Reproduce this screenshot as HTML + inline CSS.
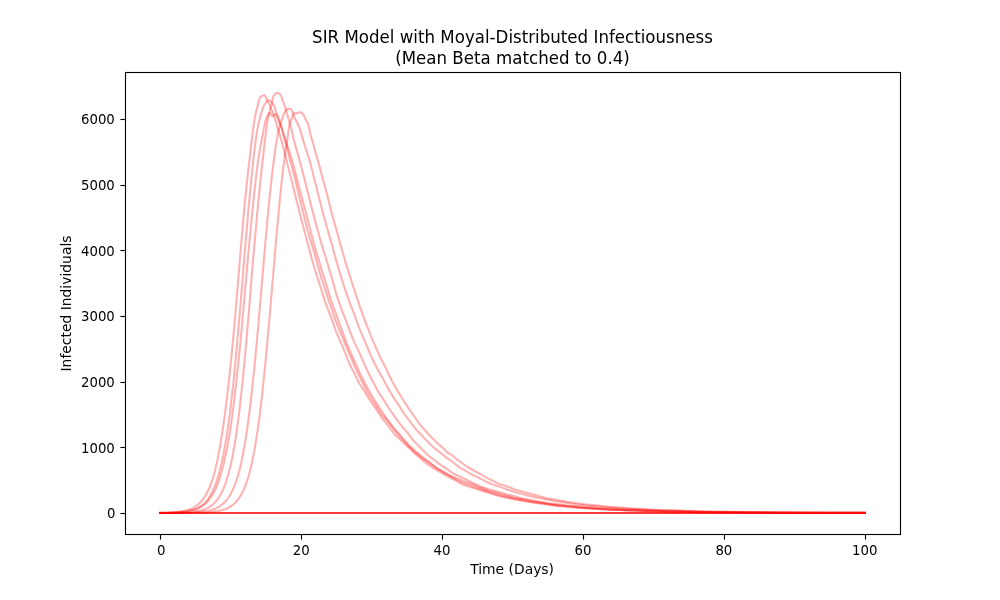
<!DOCTYPE html>
<html><head><meta charset="utf-8"><title>SIR Model with Moyal-Distributed Infectiousness</title>
<style>html,body{margin:0;padding:0;background:#fff;}body{width:1000px;height:600px;overflow:hidden;}svg{display:block;}text{font-family:"DejaVu Sans","Liberation Sans",sans-serif;fill:#000;}</style></head><body>
<svg width="1000" height="600" viewBox="0 0 1000 600">
<rect x="0" y="0" width="1000" height="600" fill="#ffffff"/>
<defs><clipPath id="ax"><rect x="125" y="72" width="775" height="462"/></clipPath></defs>
<g clip-path="url(#ax)" fill="none" stroke="#ff0000" stroke-opacity="0.3" stroke-width="2.083" stroke-linejoin="round" stroke-linecap="square">
<polyline points="160.23,512.80 168.23,512.55 174.48,512.13 176.73,511.91 181.48,511.30 185.23,510.64 186.98,510.22 188.73,509.69 190.48,509.07 191.98,508.43 192.98,507.92 194.23,507.17 195.98,506.00 197.48,504.90 198.73,503.85 200.23,502.39 201.73,500.71 202.98,499.16 204.23,497.45 205.23,495.91 206.23,494.20 207.48,491.83 208.73,489.24 209.73,486.98 211.48,482.49 213.23,477.07 214.23,473.56 215.23,469.74 216.98,462.19 218.48,454.75 220.48,443.73 222.23,433.07 223.73,422.97 225.23,411.90 226.73,399.82 228.48,384.58 229.98,370.71 231.48,356.03 234.73,321.60 240.73,249.32 244.98,200.65 247.48,177.08 249.73,158.14 251.48,142.47 253.23,128.24 254.48,120.03 255.73,113.26 256.48,110.04 257.73,105.52 258.73,101.56 259.23,99.92 259.98,97.89 260.48,96.94 260.73,96.68 261.23,96.29 261.98,95.91 263.23,95.48 264.23,95.30 264.48,95.31 264.73,95.47 264.98,95.78 265.73,97.02 267.23,100.45 269.73,104.93 269.98,105.54 270.73,108.58 270.98,109.23 271.48,110.20 272.73,112.02 273.23,113.01 278.73,131.39 282.48,144.36 283.98,149.84 285.23,154.85 287.73,165.38 291.73,180.78 299.98,214.24 305.73,236.04 309.23,248.89 312.23,260.39 313.98,266.49 321.98,291.92 323.98,298.12 325.23,301.78 331.98,320.11 335.73,330.55 337.48,334.90 343.73,349.46 347.98,360.14 349.23,363.06 350.98,366.73 354.48,373.48 357.48,379.93 358.48,381.89 359.73,384.02 362.98,388.86 366.98,395.60 372.48,403.98 376.73,410.14 381.23,416.84 383.98,420.59 386.73,423.89 388.48,426.12 393.23,432.71 394.48,434.19 395.73,435.46 400.73,440.03 405.48,444.66 409.23,447.84 412.73,451.43 416.73,455.22 420.48,458.47 422.48,460.12 427.48,464.06 431.23,466.72 433.23,468.03 439.73,471.94 445.23,475.07 451.73,478.46 454.48,479.80 458.98,482.46 460.98,483.50 462.48,484.20 465.23,485.32 470.23,487.11 473.48,488.02 478.98,489.68 486.73,492.35 493.23,494.31 496.73,495.55 504.23,497.36 507.98,498.03 514.48,499.46 522.73,500.65 529.23,502.05 531.98,502.42 535.48,503.03 543.48,503.94 556.23,505.87 562.73,506.41 567.73,506.95 576.48,507.46 585.73,508.18 589.73,508.35 596.98,509.01 602.48,509.17 607.23,509.44 611.98,509.62 615.98,509.87 619.98,509.99 626.73,510.43 630.48,510.45 634.98,510.55 641.23,510.79 644.98,510.85 651.23,511.09 658.23,511.24 670.23,511.62 681.48,511.77 697.23,512.09 703.48,512.13 713.98,512.34 724.98,512.35 734.48,512.52 750.73,512.57 756.98,512.67 760.98,512.63 785.98,512.70 796.73,512.82 817.48,512.79 824.98,512.86 864.77,512.91"/>
<polyline points="160.23,512.87 165.98,512.76 176.73,512.30 182.23,511.90 187.23,511.24 189.23,510.86 191.98,510.21 193.73,509.72 195.23,509.20 196.73,508.58 198.23,507.83 199.73,506.96 200.98,506.11 202.73,504.78 204.23,503.50 205.48,502.29 206.48,501.18 207.48,499.90 208.73,498.07 209.98,496.04 211.23,493.80 212.48,491.33 213.73,488.63 214.73,486.27 215.73,483.69 216.73,480.84 217.73,477.72 219.73,470.68 221.48,463.55 223.23,455.45 224.73,447.51 226.48,437.08 227.98,427.11 229.48,416.02 231.23,401.75 232.73,388.49 233.98,376.61 235.23,363.92 237.98,333.80 240.48,304.57 245.48,243.70 248.98,203.78 250.73,185.32 252.48,168.00 253.98,154.33 255.48,142.19 256.98,131.93 257.73,127.59 258.73,122.57 260.23,116.67 262.48,109.16 263.23,107.14 263.98,105.60 264.73,104.32 266.23,102.08 266.73,101.48 267.23,101.09 268.48,100.52 269.23,100.40 269.98,100.60 270.98,101.26 272.23,103.24 273.48,104.77 273.98,105.56 274.23,106.08 274.73,107.44 276.23,112.68 276.73,113.95 278.23,117.13 278.73,118.45 279.23,120.03 280.98,125.98 282.98,133.21 287.23,149.09 290.48,161.66 294.48,176.60 296.23,183.64 301.48,205.71 305.98,224.06 307.23,228.93 308.73,234.20 313.73,250.64 318.23,267.18 320.73,275.92 321.98,279.94 325.23,289.64 328.98,301.29 333.73,315.32 338.73,328.68 343.23,339.15 347.98,350.91 351.23,358.01 354.73,366.35 356.73,370.82 359.73,377.02 362.73,382.79 365.98,389.32 367.98,392.95 371.98,399.73 373.73,402.45 376.73,406.88 378.98,410.51 380.23,412.39 383.23,416.28 386.73,420.27 388.23,422.07 392.48,427.75 396.98,433.39 399.48,436.22 402.98,439.81 407.23,444.71 413.23,450.74 414.73,452.13 417.73,454.40 421.23,457.44 423.98,459.32 426.48,461.13 429.48,463.05 432.48,465.22 438.98,469.71 441.98,471.53 445.98,473.63 450.48,476.45 453.23,477.81 456.48,479.61 459.98,481.34 465.98,483.84 470.23,485.31 473.48,486.76 474.73,487.24 477.98,488.25 480.98,489.33 485.48,490.85 492.73,493.04 497.73,494.82 501.98,495.91 506.48,496.72 513.48,498.43 523.23,500.55 525.73,500.95 528.98,501.35 532.98,502.07 537.73,502.59 547.23,504.09 554.73,505.03 562.48,505.79 568.73,506.30 576.23,507.17 582.48,507.75 589.73,508.18 593.48,508.48 599.23,508.77 607.48,509.55 614.73,509.86 618.98,509.91 625.23,510.09 635.73,510.56 649.73,510.96 653.98,511.15 657.73,511.16 663.73,511.30 675.98,511.73 685.48,511.79 699.48,512.11 706.23,512.13 725.73,512.37 735.73,512.34 764.73,512.69 780.48,512.76 803.23,512.73 823.98,512.86 864.77,512.91"/>
<polyline points="160.23,512.86 168.98,512.69 177.98,512.32 183.48,511.82 186.48,511.44 188.48,511.07 191.73,510.35 195.48,509.25 197.48,508.50 199.48,507.63 200.98,506.86 202.48,505.93 203.98,504.85 205.48,503.60 206.98,502.17 208.23,500.80 209.48,499.22 210.73,497.45 212.23,495.15 213.48,493.06 214.48,491.19 215.48,489.11 216.73,486.22 217.98,483.09 218.98,480.38 219.98,477.43 221.73,471.54 223.48,464.67 225.48,455.79 227.23,447.18 228.98,437.56 230.48,428.26 231.73,419.60 233.23,408.16 234.73,395.79 237.73,368.89 240.48,341.65 242.48,319.82 248.23,254.75 251.98,215.18 253.48,200.36 254.98,186.35 256.48,173.36 257.73,163.55 258.73,156.59 259.98,149.04 260.98,143.69 262.73,134.92 264.23,126.42 264.98,122.84 265.48,121.05 266.23,118.75 267.23,116.30 268.73,113.68 269.23,113.14 269.48,113.02 269.73,113.01 269.98,113.12 270.48,113.54 271.48,114.68 272.23,115.81 272.73,116.35 272.98,116.39 273.23,116.21 274.23,114.65 274.48,114.43 276.23,114.40 276.48,114.61 276.73,115.12 276.98,115.84 277.73,118.55 278.23,120.06 279.48,122.77 281.23,126.12 281.73,127.34 282.48,129.71 284.23,135.86 290.73,156.06 292.98,163.79 295.48,173.11 299.48,188.86 306.98,216.85 310.98,232.87 316.73,253.52 321.73,270.12 326.23,284.42 331.23,300.74 332.98,305.94 335.98,313.97 341.23,328.56 346.98,343.86 349.98,351.13 359.98,373.42 362.23,378.00 366.98,387.13 370.23,392.92 372.98,397.58 378.98,407.13 381.73,411.21 387.48,419.48 391.73,425.26 393.23,427.19 395.73,430.17 399.23,433.91 403.23,438.83 405.48,441.39 411.98,447.94 415.98,451.82 417.48,453.14 423.73,458.13 429.48,462.27 431.23,463.67 434.23,466.25 435.48,467.20 436.48,467.83 441.73,470.82 445.48,473.21 452.98,476.82 457.48,478.51 463.48,481.02 471.23,483.77 473.23,484.61 476.73,486.26 482.23,488.17 486.48,489.98 490.48,491.39 491.98,491.80 495.98,492.70 498.48,493.41 502.23,494.60 505.73,495.40 509.98,496.73 513.73,497.67 518.48,498.45 521.73,499.13 524.23,499.55 527.98,500.44 534.98,501.78 538.48,502.23 541.48,502.78 546.73,503.58 553.73,504.45 558.48,505.27 560.48,505.56 570.48,506.49 580.48,507.61 585.73,507.84 597.48,508.76 602.23,508.98 612.48,509.60 617.48,509.70 625.73,510.21 642.48,510.69 651.73,511.12 657.98,511.24 665.48,511.52 677.48,511.75 680.98,511.74 685.23,511.90 693.48,512.05 701.23,512.11 713.48,512.33 736.23,512.41 750.48,512.63 761.23,512.61 799.23,512.83 864.77,512.91"/>
<polyline points="160.23,513.00 164.48,513.00 164.98,512.94 174.98,512.85 181.23,512.69 185.98,512.46 192.48,511.94 197.98,511.10 199.48,510.79 201.23,510.33 203.48,509.65 205.23,509.03 207.23,508.16 208.98,507.27 210.23,506.49 211.73,505.34 213.48,503.79 214.98,502.28 216.48,500.59 217.73,498.99 218.98,497.18 219.98,495.57 221.23,493.33 222.48,490.84 223.48,488.67 224.48,486.27 226.23,481.36 228.23,474.64 229.98,467.95 231.48,461.46 232.98,453.99 234.48,445.45 236.23,434.33 237.73,423.83 238.98,414.12 240.48,401.22 243.23,374.75 245.73,348.14 248.73,313.17 252.98,260.61 258.23,202.73 259.98,185.11 261.48,170.96 263.98,148.69 266.73,125.32 267.23,122.09 267.98,118.47 270.73,107.47 271.73,104.30 271.98,103.30 272.48,99.90 272.73,98.64 273.23,96.80 273.73,95.68 274.23,94.95 274.73,94.40 276.23,93.24 276.73,92.99 277.23,92.90 277.73,92.97 278.23,93.16 279.48,93.91 280.23,94.54 280.98,95.52 281.48,96.44 281.73,97.07 282.23,99.35 282.48,100.22 282.98,101.40 283.73,102.91 284.23,104.32 285.23,108.09 285.98,110.33 287.73,116.42 289.48,121.83 290.23,124.43 291.73,130.54 293.98,140.65 298.48,156.38 300.73,164.65 304.48,178.95 311.98,209.04 317.23,228.73 321.73,244.66 326.48,259.98 331.73,277.64 335.98,292.74 337.23,296.86 338.48,300.71 340.23,305.78 341.73,309.90 344.98,318.20 349.98,331.38 353.23,339.60 354.48,342.57 356.23,346.42 359.98,354.15 365.23,366.11 367.73,371.56 369.48,375.05 375.48,386.58 377.73,390.74 379.48,393.68 380.73,395.59 383.98,400.28 387.73,406.49 390.98,411.34 398.23,421.56 399.73,423.56 402.48,426.95 405.98,430.94 409.73,435.60 412.48,439.30 414.48,441.62 416.48,443.75 419.48,446.66 422.48,449.87 426.48,453.74 430.98,457.65 434.23,460.02 438.23,463.20 442.23,465.99 445.98,468.26 451.48,472.35 453.23,473.45 455.98,474.77 459.23,476.12 462.48,477.85 466.48,479.64 470.73,481.93 473.98,483.56 479.98,486.30 481.48,486.90 484.98,488.02 488.48,489.34 489.48,489.58 491.98,489.97 492.98,490.20 496.98,491.59 500.48,492.56 505.73,494.22 508.23,494.86 513.98,496.14 520.98,498.08 522.73,498.46 526.48,499.09 533.48,500.49 537.98,501.19 547.73,503.16 549.48,503.45 553.98,503.72 566.73,505.30 571.98,505.69 582.48,506.86 589.73,507.51 594.98,507.90 598.73,508.10 606.48,508.73 611.23,508.89 627.98,509.96 634.73,510.14 642.73,510.62 660.98,510.97 671.48,511.39 676.48,511.42 686.48,511.68 698.48,511.88 705.73,512.07 730.23,512.42 780.23,512.67 785.98,512.65 797.98,512.80 864.77,512.91"/>
<polyline points="160.23,513.00 172.23,513.00 172.73,512.93 183.23,512.81 192.23,512.58 195.73,512.37 203.23,511.61 207.73,510.94 209.73,510.48 212.48,509.69 214.23,509.11 215.73,508.49 217.23,507.76 218.73,506.86 220.98,505.26 222.73,503.89 224.23,502.55 225.73,501.02 226.98,499.59 228.23,497.95 229.48,496.07 230.48,494.35 231.73,491.96 232.98,489.32 234.23,486.42 235.23,483.87 236.23,481.09 237.23,478.05 238.23,474.74 239.23,471.08 240.98,463.79 242.73,455.35 244.48,445.79 246.23,435.07 247.73,424.79 249.23,413.47 250.98,399.00 252.48,385.54 253.98,371.26 256.73,343.02 258.48,323.22 265.73,238.28 268.23,210.72 269.73,195.93 271.73,177.61 273.23,164.93 274.73,153.40 276.23,143.05 277.73,134.16 278.48,130.81 279.48,127.10 281.73,119.83 283.48,114.97 284.23,113.14 284.73,112.18 285.73,110.79 287.48,108.76 287.73,108.70 289.23,108.75 290.73,108.89 290.98,109.00 291.23,109.36 292.48,112.16 295.23,118.86 298.48,125.46 299.73,128.46 300.98,132.58 304.23,143.89 308.23,156.05 310.23,162.72 311.48,167.50 313.73,176.78 316.48,187.20 319.98,201.38 323.23,213.91 328.48,232.70 331.73,244.02 335.73,258.78 339.48,271.69 342.48,281.48 344.73,288.39 347.48,296.33 349.48,301.79 353.98,313.64 358.48,326.29 359.73,329.37 364.73,340.86 369.48,352.51 371.98,358.11 374.73,363.67 378.98,371.70 382.98,378.83 388.23,388.62 392.98,396.65 394.48,399.01 399.48,406.38 402.23,410.83 404.23,413.86 405.73,415.96 411.98,424.22 416.73,430.09 417.98,431.44 420.73,434.19 424.48,438.55 426.23,440.31 433.98,447.69 435.73,449.15 439.48,451.98 443.98,455.62 446.73,457.93 447.73,458.63 449.73,459.81 450.73,460.48 454.98,464.04 458.73,466.86 461.48,468.62 466.23,471.20 469.98,473.55 471.73,474.55 473.23,475.28 480.73,478.69 485.23,481.19 490.73,483.80 492.23,484.38 496.23,485.62 498.98,486.38 501.98,487.63 504.73,488.59 507.73,489.73 511.98,490.94 516.48,492.44 522.48,494.04 526.98,495.37 531.73,496.58 537.48,497.72 540.98,498.22 544.73,499.14 548.98,499.86 554.23,500.97 567.48,502.94 571.23,503.59 575.48,504.22 577.73,504.50 583.23,505.04 587.73,505.67 590.23,505.90 595.98,506.24 603.23,507.03 611.73,507.45 617.98,508.05 626.23,508.37 631.23,508.88 635.48,509.06 640.73,509.53 648.98,509.75 659.48,510.20 663.73,510.48 671.48,510.55 694.48,511.39 718.73,511.95 732.98,511.95 744.98,512.22 758.98,512.26 765.48,512.40 784.48,512.47 799.73,512.65 812.73,512.64 824.23,512.74 833.98,512.73 839.23,512.79 864.77,512.84"/>
<polyline points="160.23,513.00 184.23,513.00 184.73,512.94 196.23,512.81 202.48,512.64 207.98,512.38 213.23,511.90 217.98,511.12 220.73,510.47 225.73,508.93 227.48,508.23 228.98,507.48 230.48,506.56 232.48,505.15 233.98,503.98 235.23,502.84 236.23,501.76 237.48,500.22 238.98,498.17 240.23,496.28 241.48,494.15 242.48,492.25 243.73,489.61 244.73,487.28 245.73,484.74 246.73,481.96 247.73,478.92 248.73,475.60 250.48,469.05 252.23,461.40 253.98,452.50 255.73,442.32 257.73,429.39 259.48,416.71 260.98,404.46 262.48,391.08 263.98,376.83 265.73,359.29 267.48,340.84 269.98,312.58 275.73,244.30 277.73,221.84 279.48,203.14 280.98,188.07 282.23,176.54 283.48,166.14 284.73,156.76 285.98,148.28 287.23,140.53 288.98,127.19 289.48,124.48 289.73,123.57 290.23,122.20 291.23,119.93 292.98,115.31 293.48,114.26 293.98,113.45 294.23,113.15 294.73,112.81 295.23,112.91 296.23,113.45 296.73,113.47 297.23,113.23 298.48,112.35 298.98,112.20 299.98,112.31 300.98,112.64 302.23,113.29 302.73,113.72 303.23,114.52 304.23,116.42 305.98,119.96 307.48,122.47 307.98,123.54 308.23,124.25 308.73,126.17 310.48,134.47 312.98,142.95 315.98,154.17 319.23,165.39 321.98,175.69 324.98,186.51 327.73,197.05 330.98,210.33 332.48,216.14 333.73,220.59 336.48,229.89 339.98,242.88 344.73,259.63 345.98,263.85 348.98,273.18 352.98,285.97 359.48,305.40 364.23,318.79 366.23,324.07 373.23,341.63 374.98,345.69 379.48,355.66 380.98,358.72 385.23,366.93 388.73,374.43 391.48,380.03 393.23,383.31 396.98,389.99 400.23,395.09 403.48,400.53 404.98,402.89 408.48,408.12 414.48,416.77 420.23,424.92 421.23,426.13 423.48,428.50 429.23,435.05 432.48,438.17 436.23,442.13 442.98,448.02 446.73,451.84 447.98,452.81 450.73,454.44 451.98,455.29 456.23,458.88 459.98,461.34 463.23,463.97 464.73,465.10 467.73,467.08 470.98,469.00 476.23,471.87 480.23,473.96 484.98,476.81 488.98,478.88 495.48,482.08 497.73,483.10 500.23,484.14 505.23,485.63 512.98,488.72 514.98,489.43 517.48,490.17 520.73,491.02 525.48,492.62 529.73,493.60 532.73,494.64 535.98,495.36 539.23,496.32 542.73,496.98 545.73,497.90 546.98,498.21 552.98,499.25 556.23,499.75 560.23,500.65 565.48,501.55 570.23,502.25 574.23,502.72 577.98,503.33 581.23,503.69 584.98,504.22 587.98,504.50 591.23,504.93 596.23,505.32 603.98,506.25 610.48,506.94 615.98,507.37 619.98,507.60 625.98,508.31 637.23,508.88 645.98,509.13 651.23,509.51 654.98,509.67 663.48,510.27 668.98,510.30 684.98,510.88 690.23,510.92 704.98,511.45 719.23,511.57 729.98,511.86 747.98,512.15 752.23,512.15 764.48,512.35 794.48,512.48 820.73,512.71 864.77,512.82"/>
<polyline points="160.23,513.00 864.77,513.00"/>
<polyline points="160.23,513.00 864.77,513.00"/>
<polyline points="160.23,513.00 864.77,513.00"/>
<polyline points="160.23,513.00 864.77,513.00"/>
</g>
<g stroke="#000" stroke-width="1.111" fill="none">
<line x1="160.5" y1="534.5" x2="160.5" y2="539.6"/>
<line x1="301.5" y1="534.5" x2="301.5" y2="539.6"/>
<line x1="442.5" y1="534.5" x2="442.5" y2="539.6"/>
<line x1="583.5" y1="534.5" x2="583.5" y2="539.6"/>
<line x1="724.5" y1="534.5" x2="724.5" y2="539.6"/>
<line x1="865.5" y1="534.5" x2="865.5" y2="539.6"/>
<line x1="120.4" y1="513.5" x2="125.5" y2="513.5"/>
<line x1="120.4" y1="447.5" x2="125.5" y2="447.5"/>
<line x1="120.4" y1="382.5" x2="125.5" y2="382.5"/>
<line x1="120.4" y1="316.5" x2="125.5" y2="316.5"/>
<line x1="120.4" y1="250.5" x2="125.5" y2="250.5"/>
<line x1="120.4" y1="185.5" x2="125.5" y2="185.5"/>
<line x1="120.4" y1="119.5" x2="125.5" y2="119.5"/>
<rect x="125.5" y="72.5" width="775" height="462" stroke-linejoin="miter"/>
</g>
<g font-size="13.889px">
<text transform="translate(161.13,555) scale(0.96,1)" text-anchor="middle">0</text>
<text transform="translate(301.14,555) scale(0.96,1)" text-anchor="middle">20</text>
<text transform="translate(442.05,555) scale(0.96,1)" text-anchor="middle">40</text>
<text transform="translate(582.95,555) scale(0.96,1)" text-anchor="middle">60</text>
<text transform="translate(723.86,555) scale(0.96,1)" text-anchor="middle">80</text>
<text transform="translate(864.77,555) scale(0.96,1)" text-anchor="middle">100</text>
<text transform="translate(115.4,518) scale(0.957,1)" text-anchor="end">0</text>
<text transform="translate(114.8,453) scale(0.957,1)" text-anchor="end">1000</text>
<text transform="translate(114.8,387) scale(0.957,1)" text-anchor="end">2000</text>
<text transform="translate(114.8,321) scale(0.957,1)" text-anchor="end">3000</text>
<text transform="translate(114.8,256) scale(0.957,1)" text-anchor="end">4000</text>
<text transform="translate(114.8,190) scale(0.957,1)" text-anchor="end">5000</text>
<text transform="translate(114.8,124) scale(0.957,1)" text-anchor="end">6000</text>
<text x="512.1" y="573.5" text-anchor="middle">Time (Days)</text>
<text transform="translate(71.3,303.5) rotate(-90)" text-anchor="middle">Infected Individuals</text>
</g>
<g font-size="16.667px" text-anchor="middle"><text transform="translate(512.5,43) scale(1,1.085)">SIR Model with Moyal-Distributed Infectiousness</text><text transform="translate(512.5,64) scale(1,1.085)">(Mean Beta matched to 0.4)</text></g>
</svg></body></html>
